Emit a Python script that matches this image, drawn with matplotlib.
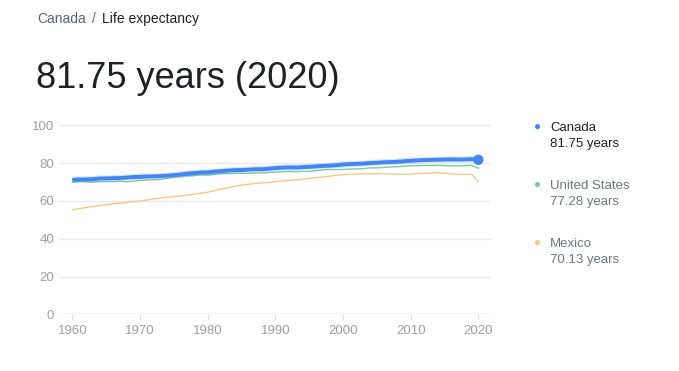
import matplotlib
matplotlib.use("Agg")
import matplotlib.pyplot as plt
import numpy as np

plt.rcParams['font.family'] = ['Liberation Sans', 'DejaVu Sans']

years = list(range(1960, 2021))
canada = [71.13, 71.35, 71.37, 71.46, 71.84, 71.88, 72.04, 72.15, 72.32, 72.62,
          72.70, 72.94, 72.97, 73.14, 73.34, 73.65, 74.01, 74.42, 74.70, 75.06,
          75.08, 75.48, 75.78, 76.03, 76.29, 76.32, 76.52, 76.75, 76.76, 77.02,
          77.38, 77.58, 77.72, 77.64, 77.86, 77.98, 78.23, 78.48, 78.63, 78.88,
          79.24, 79.48, 79.59, 79.73, 80.04, 80.14, 80.44, 80.54, 80.69, 80.99,
          81.20, 81.45, 81.60, 81.70, 81.80, 81.90, 81.95, 81.90, 81.95, 82.05,
          81.75]
usa = [69.77, 70.27, 70.12, 69.92, 70.17, 70.21, 70.21, 70.56, 70.07, 70.51,
       70.81, 71.11, 71.16, 71.36, 71.96, 72.60, 72.86, 73.26, 73.36, 73.80,
       73.61, 74.01, 74.36, 74.46, 74.56, 74.56, 74.61, 74.77, 74.77, 75.02,
       75.21, 75.37, 75.62, 75.42, 75.62, 75.62, 76.03, 76.43, 76.58, 76.58,
       76.64, 76.84, 76.94, 77.04, 77.49, 77.49, 77.69, 77.99, 78.04, 78.39,
       78.54, 78.64, 78.74, 78.74, 78.84, 78.69, 78.54, 78.54, 78.64, 78.79,
       77.28]
mexico = [55.3, 55.9, 56.5, 57.0, 57.5, 58.0, 58.4, 58.8, 59.2, 59.6,
          60.0, 60.5, 61.0, 61.5, 61.9, 62.3, 62.6, 63.1, 63.6, 64.1,
          64.6, 65.4, 66.3, 67.0, 67.7, 68.3, 68.8, 69.2, 69.5, 69.8,
          70.2, 70.5, 70.8, 71.1, 71.5, 71.9, 72.3, 72.7, 73.1, 73.5,
          73.9, 74.1, 74.2, 74.3, 74.4, 74.3, 74.3, 74.2, 74.1, 74.1,
          74.2, 74.4, 74.6, 74.8, 74.8, 74.7, 74.4, 74.1, 74.0, 74.2,
          70.13]
names = ["Canada", "United States", "Mexico"]
latest = ["81.75 years", "77.28 years", "70.13 years"]
colors = ["#4285F4", "#81C995", "#FCC67F"]
yticks = [0, 20, 40, 60, 80, 100]
xticks = [1960, 1970, 1980, 1990, 2000, 2010, 2020]

W, H = 679, 371
fig = plt.figure(figsize=(W/100, H/100), dpi=100)
ax = fig.add_axes([59/W, (H-314.3)/H, (490.7-59)/W, (314.3-125.3)/H])

ax.plot(years, mexico, color=colors[2], lw=1.0, zorder=2)
ax.plot(years, usa, color=colors[1], lw=1.0, zorder=3)
ax.plot(years, canada, color="#4285F4", alpha=0.2, lw=4.5, zorder=4, solid_capstyle='butt')
ax.plot(years, canada, color=colors[0], lw=2.8, zorder=5, solid_capstyle='butt')
ax.scatter([years[-1]], [canada[-1]], s=55, color=colors[0], zorder=6, edgecolors='none')

ax.set_xlim(1958.03, 2021.83)
ax.set_ylim(0, 100)
ax.set_yticks(yticks)
ax.set_xticks(xticks)
for s in ax.spines.values():
    s.set_visible(False)
ax.grid(axis='y', color='#EBEBEB', lw=1)
ax.set_axisbelow(True)
ax.tick_params(axis='y', length=0, labelsize=9.5, labelcolor='#9E9E9E', pad=3.5)
ax.tick_params(axis='x', length=4, color='#E0E0E0', labelsize=9.5, labelcolor='#9E9E9E', pad=3.5)
ax.axhline(0, color='#E0E0E0', lw=1, zorder=1)

# Titles
fig.text(37/W, 1-19/H, "Canada", fontsize=10, color='#5F6368', va='center', ha='left')
fig.text(92/W, 1-19/H, "/", fontsize=10, color='#5F6368', va='center', ha='left')
fig.text(102/W, 1-19/H, "Life expectancy", fontsize=10, color='#202124', va='center', ha='left')
fig.text(36/W, 1-79/H, "81.75 years (2020)", fontsize=26, color='#202124', va='center', ha='left')

# Legend
leg_y = [128, 186, 244]
txt_colors = ['#202124', '#70757A', '#70757A']
for i in range(3):
    fig.text(538/W, 1-(leg_y[i]-1)/H, "\u25CF", fontsize=8.5, color=colors[i], va='center', ha='center')
    fig.text(550/W, 1-leg_y[i]/H, names[i], fontsize=9.5, color=txt_colors[i], va='center', ha='left')
    fig.text(550/W, 1-(leg_y[i]+16)/H, latest[i], fontsize=9.5, color=txt_colors[i], va='center', ha='left')

fig.savefig("out.png", dpi=100)
